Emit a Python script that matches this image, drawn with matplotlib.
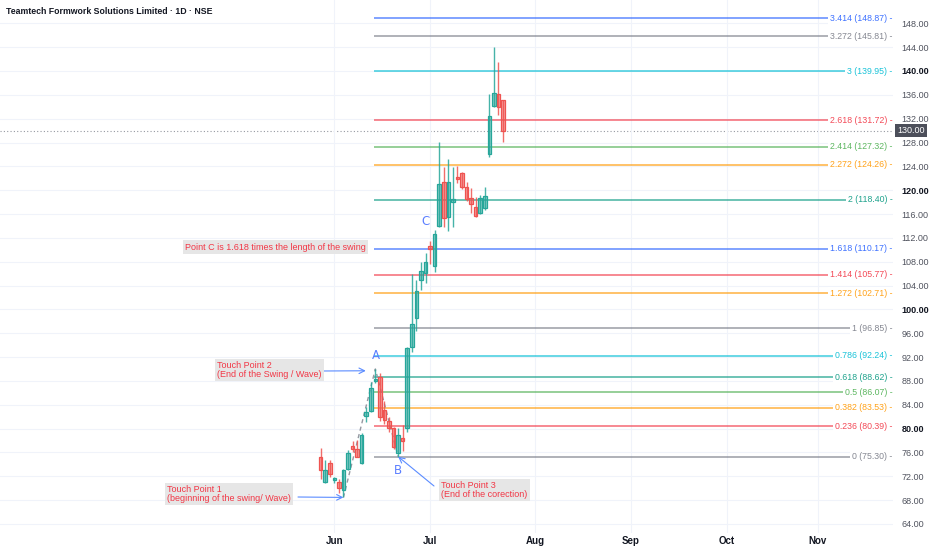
import numpy as np
import matplotlib
matplotlib.use('Agg')
import matplotlib.pyplot as plt
import matplotlib.transforms as mtransforms

plt.rcParams['font.family'] = ['Liberation Sans Narrow', 'Liberation Sans', 'DejaVu Sans']

# daily candles, one per trading day starting 28 May
opens = [75.2, 71.1, 74.2, 71.4, 71.1, 69.7, 73.2, 77.1, 76.5, 74.2,
         82.1, 83.0, 88.0, 88.6, 83.1, 81.3, 80.05, 75.95, 78.2, 80.05,
         93.75, 98.6, 105.0, 106.05, 110.7, 107.2, 114.05, 121.45, 115.55, 118.1,
         122.0, 122.85, 120.6, 118.65, 117.1, 116.1, 117.0, 126.05, 134.1, 136.1,
         135.1]
highs = [76.8, 74.7, 74.7, 71.9, 71.5, 73.3, 76.4, 77.9, 78.1, 79.2,
         83.6, 87.8, 90.0, 89.3, 84.7, 82.0, 80.2, 80.05, 80.6, 93.75,
         106.0, 104.9, 108.0, 109.4, 111.5, 113.3, 128.15, 123.85, 125.2, 123.85,
         124.1, 123.1, 121.45, 120.3, 118.9, 119.2, 120.5, 136.2, 144.0, 141.5,
         135.1]
lows = [71.5, 70.9, 71.9, 70.9, 69.25, 68.45, 73.05, 76.1, 75.2, 74.1,
        81.1, 82.7, 87.6, 81.2, 80.7, 79.5, 76.5, 75.30, 76.2, 79.4,
        92.9, 96.4, 103.25, 104.4, 107.6, 106.2, 113.9, 113.9, 113.2, 113.9,
        121.15, 120.15, 118.2, 116.2, 115.5, 116.0, 116.7, 125.5, 134.0, 132.6,
        128.1]
closes = [73.05, 73.05, 72.35, 71.6, 70.1, 73.05, 75.85, 76.6, 75.3, 79.0,
          82.8, 86.8, 88.4, 82.0, 81.5, 80.05, 76.95, 78.9, 78.0, 93.5,
          97.5, 103.1, 106.4, 108.0, 110.1, 112.65, 121.05, 115.3, 121.3, 118.2,
          121.8, 120.6, 118.5, 117.7, 115.7, 118.65, 119.05, 132.45, 136.25, 134.0,
          130.0]
last_price = 130.0

month_pos = [3, 24, 47, 68, 89, 109]
month_labels = ['Jun', 'Jul', 'Aug', 'Sep', 'Oct', 'Nov']
price_ticks = list(range(64, 149, 4))
bold_ticks = [80, 100, 120, 140]

# trend based fib extension: start of swing, end of swing (A), end of correction (B)
swing_idx = [5, 12, 17]
swing_price = [68.45, 90.0, 75.30]
fib_ratios = [0, 0.236, 0.382, 0.5, 0.618, 0.786, 1, 1.272, 1.414, 1.618,
              2, 2.272, 2.414, 2.618, 3, 3.272, 3.414]

gris, rojo, naranja, verde = '#787b86', '#f23645', '#ff9800', '#4caf50'
teal, cian, azul = '#089981', '#00bcd4', '#2962ff'
fib_colors = [gris, rojo, naranja, verde, teal, cian, gris, naranja, rojo, azul,
              teal, naranja, verde, rojo, cian, gris, azul]

W, H = 932, 550
fig = plt.figure(figsize=(W / 100, H / 100), dpi=100)
ax = fig.add_axes([0, 17 / H, 893 / W, 533 / H])
x_min, x_max = -70.3, 125.5
ax.set_xlim(x_min, x_max)
ax.set_ylim(62.48, 151.91)
for s in ax.spines.values():
    s.set_visible(False)

ax.set_xticks(month_pos, month_labels)
ax.yaxis.tick_right()
ax.set_yticks(price_ticks, ['%.2f' % p for p in price_ticks])
ax.grid(True, color='#f0f3fa', lw=0.8, zorder=0)
ax.tick_params(axis='x', length=0, pad=2.5, labelsize=7, labelcolor='#131722')
ax.tick_params(axis='y', length=0, pad=6, labelsize=6.5, labelcolor='#50535e')
for lbl in ax.get_xticklabels():
    lbl.set_fontweight('bold')
    lbl.set_fontfamily(['Liberation Sans', 'DejaVu Sans'])
for lbl, p in zip(ax.get_yticklabels(), price_ticks):
    lbl.set_fontfamily(['Liberation Sans', 'DejaVu Sans'])
    if p in bold_ticks:
        lbl.set_fontweight('bold')
        lbl.set_color('#131722')

# fib levels
rango = swing_price[1] - swing_price[0]
trans = mtransforms.blended_transform_factory(ax.transAxes, ax.transData)
for r, c in zip(fib_ratios, fib_colors):
    nivel = swing_price[2] + r * rango
    ax.hlines(nivel, 11.8, x_max, color=c, lw=1.1, alpha=0.75, zorder=2)
    ax.text(0.9995, nivel, '%g (%.2f) -' % (r, nivel), transform=trans, ha='right', va='center',
            fontsize=6.3, color=c, alpha=0.9, zorder=4,
            bbox=dict(facecolor='white', edgecolor='none', pad=1.4))

# last price
ax.axhline(last_price, color='#9598a1', lw=0.8, ls=(0, (1, 2)), zorder=1)
ax.text(1.0045, last_price, '%.2f' % last_price, transform=trans, ha='left', va='center',
        fontsize=6.5, color='white', family=['Liberation Sans', 'DejaVu Sans'], clip_on=False,
        bbox=dict(facecolor='#4c4f5a', edgecolor='none', pad=1.6))

# candles
idx = np.arange(len(opens))
o = np.array(opens)
c = np.array(closes)
colores = np.where(c >= o, '#26a69a', '#ef5350')
ax.vlines(idx, lows, highs, color=colores, lw=1.0, alpha=0.85, zorder=3)
alto = np.maximum(np.abs(c - o), 0.35)
ax.bar(idx, alto, bottom=np.minimum(o, c), width=0.78, color=colores, alpha=0.55, zorder=3)
ax.bar(idx, alto, bottom=np.minimum(o, c), width=0.78, facecolor='none',
       edgecolor=colores, lw=0.9, zorder=3)

# swing path
ax.plot(swing_idx, swing_price, color='#9598a1', lw=1, ls=(0, (3, 2.5)), zorder=2)

letra = dict(color='#5b7fff', fontsize=8.5, ha='center', va='center', zorder=5,
             family=['DejaVu Sans'])
ax.text(12.1, 92.3, 'A', **letra)
ax.text(17.0, 73.0, 'B', **letra)
ax.text(23.1, 114.7, 'C', **letra)

# notes
caja = dict(facecolor='#e6e6e6', edgecolor='none', pad=1.6)
nota = dict(ha='left', va='center', fontsize=6.5, color='#f23645', linespacing=1.0, bbox=caja)
fig.text(167 / W, 1 - 494 / H, 'Touch Point 1\n(beginning of the swing/ Wave)', **nota)
fig.text(217 / W, 1 - 370 / H, 'Touch Point 2\n(End of the Swing / Wave)', **nota)
fig.text(441 / W, 1 - 490 / H, 'Touch Point 3\n(End of the corection)', **nota)
fig.text(185 / W, 1 - 247 / H, 'Point C is 1.618 times the length of the swing', **nota)

flecha = dict(arrowstyle='->', color='#5b8cff', lw=0.8, shrinkA=0, shrinkB=0)
ax.annotate('', xy=(swing_idx[0], swing_price[0]), xytext=(298, H - 497),
            textcoords='figure pixels', arrowprops=flecha)
ax.annotate('', xy=(swing_idx[1] - 2.1, swing_price[1] - 0.3), xytext=(322, H - 371),
            textcoords='figure pixels', arrowprops=flecha)
ax.annotate('', xy=(swing_idx[2], swing_price[2]), xytext=(434, H - 486),
            textcoords='figure pixels', arrowprops=flecha)

fig.text(6 / W, 1 - 12 / H, 'Teamtech Formwork Solutions Limited · 1D · NSE', ha='left', va='center',
         fontsize=6.3, fontweight='bold', color='#131722')

fig.savefig('out.png', dpi=100)
